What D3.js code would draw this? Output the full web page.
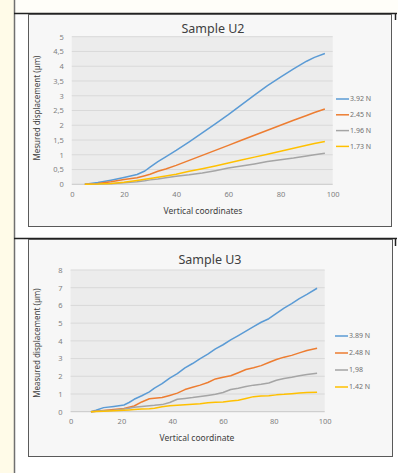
<!DOCTYPE html>
<html>
<head>
<meta charset="utf-8">
<script src="https://cdn.jsdelivr.net/npm/d3@7"></script>
<style>
  body { margin: 0; background: #fffef9; }
  svg { display: block; }
  text { font-family: "Noto Sans", sans-serif; }
</style>
</head>
<body>
<svg id="page" width="398" height="473"></svg>
<script>
// ---- data ----
var seriesColors = ["#5b9bd5", "#ed7d31", "#a5a5a5", "#ffc000"];

// Sample U2
var u2Labels = ["3.92 N", "2.45 N", "1.96 N", "1.73 N"];
var u2X = [5, 10, 15, 20, 25, 28, 30, 33, 36, 40, 45, 50, 55, 60, 65, 70, 75, 80, 85, 90, 93, 97];
var u2Blue = [0, 0.06, 0.14, 0.23, 0.33, 0.45, 0.58, 0.77, 0.93, 1.15, 1.44, 1.74, 2.05, 2.36, 2.69, 3.02, 3.34, 3.63, 3.91, 4.17, 4.30, 4.43];
var u2Orange = [0, 0.03, 0.09, 0.16, 0.22, 0.29, 0.34, 0.44, 0.52, 0.64, 0.81, 0.98, 1.15, 1.32, 1.49, 1.66, 1.83, 2.0, 2.17, 2.33, 2.43, 2.55];
var u2Gray = [0, 0.01, 0.02, 0.05, 0.09, 0.12, 0.15, 0.18, 0.22, 0.27, 0.32, 0.38, 0.46, 0.55, 0.62, 0.69, 0.77, 0.83, 0.89, 0.96, 1.0, 1.05];
var u2Yellow = [0, 0.01, 0.03, 0.07, 0.13, 0.17, 0.2, 0.24, 0.28, 0.34, 0.44, 0.53, 0.62, 0.72, 0.82, 0.92, 1.02, 1.12, 1.22, 1.32, 1.38, 1.45];
var u2YTicks = [0, 0.5, 1, 1.5, 2, 2.5, 3, 3.5, 4, 4.5, 5];

// Sample U3
var u3Labels = ["3.89 N", "2.48 N", "1,98", "1.42 N"];
var u3X = [8, 10, 13, 17, 21, 23, 25, 28, 31, 33, 36, 39, 42, 45, 48, 51, 54, 57, 60, 63, 66, 69, 72, 75, 78, 81, 84, 87, 90, 93, 97];
var u3Blue = [0, 0.08, 0.23, 0.3, 0.38, 0.52, 0.7, 0.9, 1.12, 1.33, 1.58, 1.9, 2.15, 2.47, 2.72, 3.0, 3.25, 3.55, 3.78, 4.05, 4.3, 4.55, 4.8, 5.05, 5.25, 5.55, 5.85, 6.1, 6.38, 6.62, 6.97];
var u3Orange = [0, 0.03, 0.07, 0.12, 0.18, 0.25, 0.32, 0.55, 0.73, 0.76, 0.8, 0.92, 1.05, 1.25, 1.38, 1.5, 1.65, 1.85, 1.95, 2.03, 2.2, 2.38, 2.48, 2.6, 2.78, 2.95, 3.08, 3.18, 3.32, 3.45, 3.58];
var u3Gray = [0, 0.02, 0.05, 0.08, 0.15, 0.2, 0.25, 0.3, 0.34, 0.36, 0.4, 0.52, 0.7, 0.75, 0.8, 0.86, 0.92, 0.98, 1.08, 1.25, 1.33, 1.42, 1.5, 1.55, 1.62, 1.78, 1.88, 1.95, 2.03, 2.1, 2.17];
var u3Yellow = [0, 0.01, 0.03, 0.05, 0.08, 0.1, 0.12, 0.15, 0.17, 0.2, 0.28, 0.33, 0.36, 0.39, 0.42, 0.45, 0.5, 0.53, 0.55, 0.6, 0.65, 0.75, 0.85, 0.88, 0.9, 0.95, 0.98, 1.02, 1.05, 1.08, 1.1];
var u3YTicks = [0, 1, 2, 3, 4, 5, 6, 7, 8];

var xTicks = [0, 20, 40, 60, 80, 100];

var svg = d3.select("#page");

// page frame (table cells around the charts)
svg.append("rect").attr("x", 0).attr("y", 0).attr("width", 14).attr("height", 473).attr("fill", "#fffbe8");
svg.append("rect").attr("x", 14).attr("y", 14).attr("width", 384).attr("height", 459).attr("fill", "#ffffff");
svg.append("line").attr("x1", 14.5).attr("x2", 14.5).attr("y1", 0).attr("y2", 473)
  .attr("stroke", "#707070").attr("stroke-width", 1.5);
[13.5, 238.5].forEach(function (y) {
  svg.append("line").attr("x1", 14).attr("x2", 397).attr("y1", y).attr("y2", y)
    .attr("stroke", "#222").attr("stroke-width", 1.5);
});

function drawChart(opts) {
  var g = svg.append("g");

  // chart area box
  g.append("rect")
    .attr("x", opts.box[0] + 0.5).attr("y", opts.box[1] + 0.5)
    .attr("width", opts.box[2]).attr("height", opts.box[3])
    .attr("fill", "#f7f7f7").attr("stroke", "#5a5a5a").attr("stroke-width", 1);

  var x = d3.scaleLinear().domain([0, 100]).range([opts.plot[0], opts.plot[1]]);
  var y = d3.scaleLinear().domain([0, opts.yMax]).range([opts.plot[3], opts.plot[2]]);

  // plot background
  g.append("rect")
    .attr("x", x(0)).attr("y", y(opts.yMax))
    .attr("width", x(100) - x(0)).attr("height", y(0) - y(opts.yMax))
    .attr("fill", "#ececec");

  // gridlines
  g.append("g").selectAll("line").data(opts.yTicks).join("line")
    .attr("x1", x(0)).attr("x2", x(100))
    .attr("y1", function (d) { return y(d); }).attr("y2", function (d) { return y(d); })
    .attr("stroke", function (d) { return d === 0 ? "#c8c8c8" : "#d9d9d9"; })
    .attr("stroke-width", 1);

  // y axis labels
  var yAxis = d3.axisLeft(y).tickValues(opts.yTicks).tickSize(0).tickPadding(8)
    .tickFormat(function (d) { return String(d).replace(".", ","); });
  g.append("g").attr("transform", "translate(" + x(0) + ",0)").call(yAxis)
    .call(function (s) { s.select(".domain").remove(); })
    .selectAll("text").attr("fill", "#808080").style("font-size", "7.5px");

  // x axis labels
  var xAxis = d3.axisBottom(x).tickValues(xTicks).tickSize(0).tickPadding(7);
  g.append("g").attr("transform", "translate(0," + y(0) + ")").call(xAxis)
    .call(function (s) { s.select(".domain").remove(); })
    .selectAll("text").attr("fill", "#808080").style("font-size", "7.5px");

  // series lines
  var line = d3.line()
    .x(function (d) { return x(d[0]); })
    .y(function (d) { return y(d[1]); });

  opts.series.forEach(function (vals, i) {
    var pts = opts.xs.map(function (xv, j) { return [xv, vals[j]]; });
    g.append("path").datum(pts)
      .attr("d", line)
      .attr("fill", "none")
      .attr("stroke", seriesColors[i])
      .attr("stroke-width", 1.5)
      .attr("stroke-linejoin", "round");
  });

  // title
  g.append("text")
    .attr("x", opts.titlePos[0]).attr("y", opts.titlePos[1])
    .attr("text-anchor", "middle").attr("fill", "#404040")
    .style("font-size", "12.5px")
    .text(opts.title);

  // axis titles
  g.append("text")
    .attr("x", opts.xTitlePos[0]).attr("y", opts.xTitlePos[1])
    .attr("text-anchor", "middle").attr("fill", "#404040")
    .style("font-size", "8.5px")
    .text(opts.xTitle);

  g.append("text")
    .attr("transform", "translate(" + opts.yTitlePos[0] + "," + opts.yTitlePos[1] + ") rotate(-90)")
    .attr("text-anchor", "middle").attr("fill", "#404040")
    .style("font-size", "8px")
    .text(opts.yTitle);

  // legend
  var leg = g.append("g").selectAll("g").data(opts.labels).join("g")
    .attr("transform", function (d, i) {
      return "translate(" + opts.legend[0] + "," + (opts.legend[1] + i * opts.legend[2]) + ")";
    });
  leg.append("line").attr("x1", 0).attr("x2", 13).attr("y1", 0).attr("y2", 0)
    .attr("stroke", function (d, i) { return seriesColors[i]; }).attr("stroke-width", 1.5);
  leg.append("text").attr("x", 14).attr("dy", "0.35em")
    .attr("fill", "#707070").style("font-size", "7px")
    .text(function (d) { return d; });
}

drawChart({
  box: [28, 14, 363, 212],
  plot: [71.8, 332.7, 36.7, 184.3],
  yMax: 5,
  yTicks: u2YTicks,
  xs: u2X,
  series: [u2Blue, u2Orange, u2Gray, u2Yellow],
  labels: u2Labels,
  title: "Sample U2",
  titlePos: [213, 33],
  xTitle: "Vertical coordinates",
  xTitlePos: [203, 214],
  yTitle: "Mesured displacement (\u00b5m)",
  yTitlePos: [40, 108],
  legend: [336, 99, 15.8]
});

drawChart({
  box: [28, 239, 364, 217],
  plot: [70.6, 324.7, 270, 411.7],
  yMax: 8,
  yTicks: u3YTicks,
  xs: u3X,
  series: [u3Blue, u3Orange, u3Gray, u3Yellow],
  labels: u3Labels,
  title: "Sample U3",
  titlePos: [210, 264],
  xTitle: "Vertical coordinate",
  xTitlePos: [197, 441],
  yTitle: "Measured displacement (\u00b5m)",
  yTitlePos: [40, 343],
  legend: [335, 336, 17]
});

// short stubs of the outer right border
[[13, 20], [238, 246]].forEach(function (r) {
  svg.append("line").attr("x1", 395.5).attr("x2", 395.5).attr("y1", r[0]).attr("y2", r[1])
    .attr("stroke", "#222").attr("stroke-width", 1.5);
});
</script>
</body>
</html>
